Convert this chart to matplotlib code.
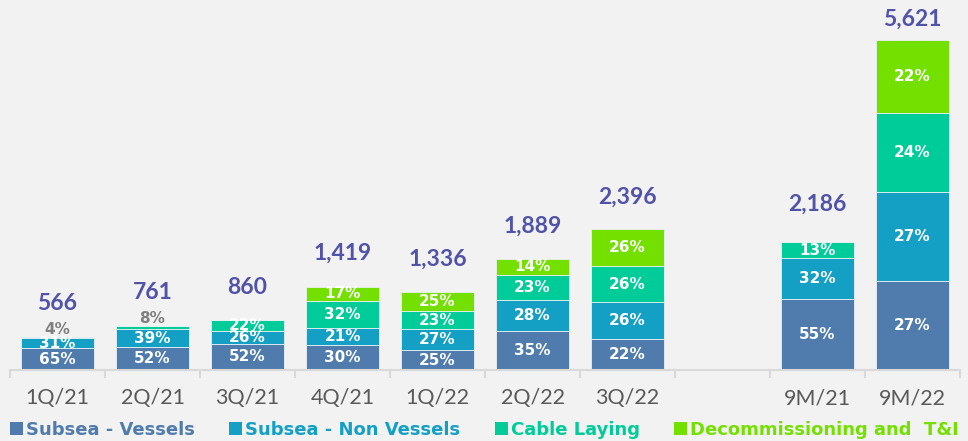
import numpy as np
import matplotlib
matplotlib.use("Agg")
from matplotlib import pyplot as plt
from matplotlib.patches import Patch

# data
categories = ['1Q/21', '2Q/21', '3Q/21', '4Q/21', '1Q/22', '2Q/22', '3Q/22', '', '9M/21', '9M/22']
totals = [566, 761, 860, 1419, 1336, 1889, 2396, np.nan, 2186, 5621]
total_labels = ['566', '761', '860', '1,419', '1,336', '1,889', '2,396', '', '2,186', '5,621']

vessels = [65, 52, 52, 30, 25, 35, 22, 0, 55, 27]
non_vessels = [31, 39, 26, 21, 27, 28, 26, 0, 32, 27]
cable_laying = [4, 8, 22, 32, 23, 23, 26, 0, 13, 24]
decommissioning = [0, 0, 0, 17, 25, 14, 26, 0, 0, 22]

series_names = ['Subsea - Vessels', 'Subsea - Non Vessels', 'Cable Laying', 'Decommissioning and  T&I']
series_colors = ['#4F7CAC', '#14A0C4', '#00CC99', '#74E000']

BG = '#F2F2F2'
TOTAL_COLOR = '#5053A8'
plt.rcParams['font.family'] = ['Lato', 'DejaVu Sans']

fig = plt.figure(figsize=(9.68, 4.41), dpi=100, facecolor=BG)
ax = fig.add_axes([10 / 968, 71 / 441, 950 / 968, 370 / 441])
ax.set_facecolor(BG)

x = np.arange(len(categories))
tot = np.nan_to_num(np.array(totals, dtype=float))
bottom = np.zeros(len(categories))
px_per_unit = 330 / 5621  # pixels per value unit, used for label offsets

for pcts, name, col in zip([vessels, non_vessels, cable_laying, decommissioning],
                           series_names, series_colors):
    h = tot * np.array(pcts) / 100.0
    ax.bar(x, h, width=0.77, bottom=bottom, color=col, edgecolor='#E8F0F4',
           linewidth=0.6, label=name)
    for i, p in enumerate(pcts):
        if p == 0:
            continue
        if p < 10 and h[i] * px_per_unit < 8:
            # tiny segment: grey label sitting above the bar
            ax.annotate(f'{p}%', (x[i], bottom[i] + h[i]), xytext=(0, 7),
                        textcoords='offset pixels', ha='center', va='center',
                        fontsize=11, fontweight='bold', color='#808080',
                        family='DejaVu Sans')
        else:
            ax.text(x[i], bottom[i] + h[i] / 2, f'{p}%', ha='center', va='center',
                    fontsize=11, fontweight='bold', color='white', family='DejaVu Sans')
    bottom = bottom + h

offsets = [33, 33, 32, 33, 32, 33, 32, 0, 37, 21]
for i, lab in enumerate(total_labels):
    if not lab:
        continue
    ax.annotate(lab, (x[i], tot[i]), xytext=(0, offsets[i]), textcoords='offset pixels',
                ha='center', va='center', fontsize=16.5, fontweight='bold', color=TOTAL_COLOR)

ax.set_xlim(-0.5, len(categories) - 0.5)
ax.set_ylim(0, 5621 * 370 / 330)

for s in ['top', 'right', 'left']:
    ax.spines[s].set_visible(False)
ax.spines['bottom'].set_color('#D9D9D9')
ax.spines['bottom'].set_linewidth(1.5)
ax.set_yticks([])

ax.set_xticks(x)
ax.set_xticklabels(categories, fontsize=15.5, color='#595959')
ax.tick_params(axis='x', which='major', length=0, pad=13)
ax.set_xticks(np.arange(-0.5, len(categories)), minor=True)
ax.tick_params(axis='x', which='minor', length=6, width=1.5, color='#D9D9D9')

handles = [Patch(facecolor=c, edgecolor='none') for c in series_colors]
fig.legend(handles, series_names, loc='lower left', bbox_to_anchor=(10 / 968, 2 / 441),
           ncol=4, frameon=False, borderpad=0, borderaxespad=0,
           handlelength=0.72, handleheight=0.72, handletextpad=0.17, columnspacing=1.9,
           labelcolor=series_colors,
           prop={'weight': 'bold', 'size': 13, 'family': 'DejaVu Sans'})

fig.savefig('out.png', dpi=100, facecolor=BG)
